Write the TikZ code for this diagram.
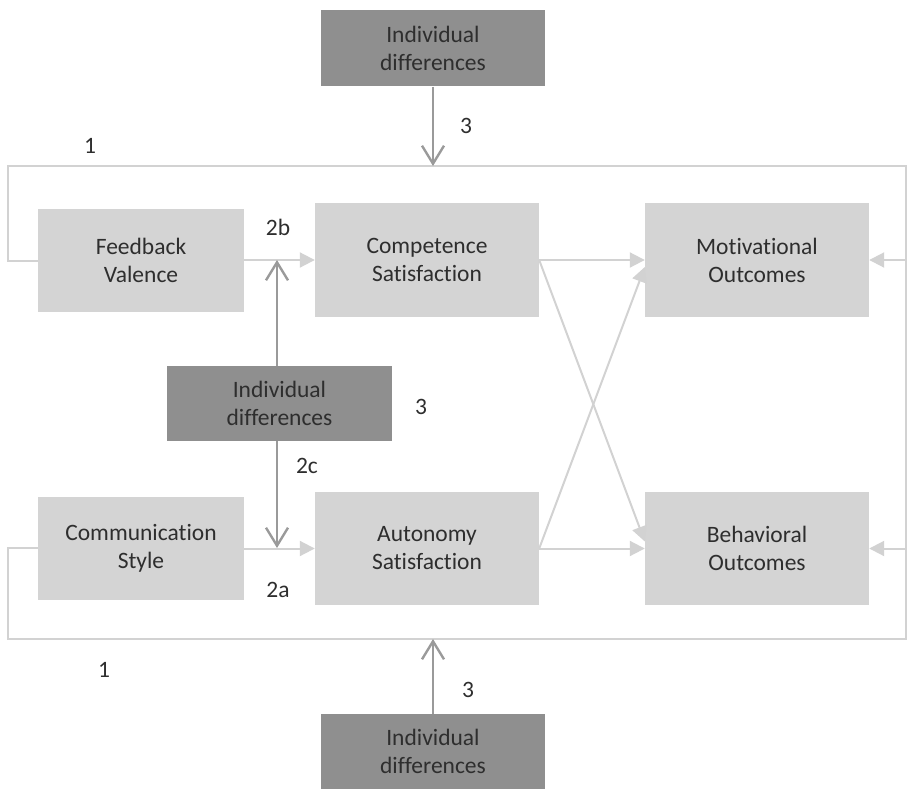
\documentclass[tikz,border=0pt]{standalone}
\usepackage{fontspec}
\setmainfont{Carlito}[Ligatures={NoCommon}]
\usetikzlibrary{arrows.meta}
\definecolor{boxlight}{HTML}{D4D4D4}
\definecolor{boxdark}{HTML}{8F8F8F}
\definecolor{linelight}{HTML}{D2D2D2}
\definecolor{linedark}{HTML}{9A9A9A}
\definecolor{ink}{HTML}{2E2E2E}
\begin{document}
\begin{tikzpicture}[x=1pt,y=-1pt,
  every node/.style={text=ink,font=\fontsize{23.5}{28}\selectfont},
  lbox/.style={fill=boxlight,draw=none,align=center,inner sep=0pt},
  dbox/.style={fill=boxdark,draw=none,align=center,inner sep=0pt,minimum width=224pt,minimum height=76pt},
  flow/.style={draw=linelight,line width=2pt},
  flowarrow/.style={flow,-{Triangle[length=15pt,width=15pt]}},
  modarrow/.style={draw=linedark,line width=2.4pt,-{Straight Barb[length=18pt,width=22pt,line width=2.4pt]}},
  tag/.style={inner sep=0pt}]
\useasboundingbox (0,0) rectangle (907,789);

% boxes
\node[dbox] (idtop) at (433,48.5) {Individual\\differences};
\node[lbox,minimum width=206pt,minimum height=103pt] (fv) at (141,260.5) {Feedback\\Valence};
\node[lbox,minimum width=224pt,minimum height=114pt] (cs) at (427,260) {Competence\\Satisfaction};
\node[lbox,minimum width=224pt,minimum height=114pt] (mo) at (757,260) {Motivational\\Outcomes};
\node[dbox,minimum width=225pt,minimum height=75pt] (idmid) at (279.5,403.5) {Individual\\differences};
\node[lbox,minimum width=206pt,minimum height=103pt] (com) at (141,548) {Communication\\Style};
\node[lbox,minimum width=224pt,minimum height=113pt] (as) at (427,548.5) {Autonomy\\Satisfaction};
\node[lbox,minimum width=224pt,minimum height=113pt] (bo) at (757,548.5) {Behavioral\\Outcomes};
\node[dbox,minimum height=75pt] (idbot) at (433,751.5) {Individual\\differences};

% corners of the outer feedback loop
\coordinate (lt) at (8,166);
\coordinate (rt) at (906,166);
\coordinate (lb) at (8,639);
\coordinate (rb) at (906,639);

% outer loop
\draw[flow] (fv.west) -| (lt) -- (rt) -- (rb) -- (lb) |- (com.west);
\draw[flowarrow] (rt |- mo.east) -- (mo.east);
\draw[flowarrow] (rt |- bo.east) -- (bo.east);

% main paths
\draw[flowarrow] (fv.east |- cs.west) -- (cs.west);
\draw[flowarrow] (com.east |- as.west) -- (as.west);
\draw[flowarrow] (cs.east) -- (mo.west);
\draw[flowarrow] (as.east) -- (bo.west);
\draw[flowarrow] (cs.east) -- ([yshift=7pt]bo.west);
\draw[flowarrow] (as.east) -- ([yshift=-7pt]mo.west);

% moderators
\coordinate (mup) at (277,260);
\coordinate (mdn) at (277,548);
\draw[modarrow] (277,366) -- (mup);
\draw[modarrow] (277,441) -- (mdn);
\draw[modarrow] (idtop.south) -- (idtop.south |- rt);
\draw[modarrow] (idbot.north) -- (idbot.north |- rb);

% path labels
\node[tag] (l1a) at (90,146) {1};
\node[tag] (l3a) at (466,126) {3};
\node[tag] (l2b) at (278,227) {2b};
\node[tag] (l3b) at (421,407) {3};
\node[tag] (l2c) at (307,466) {2c};
\node[tag] (l2a) at (278,590) {2a};
\node[tag] (l1b) at (104,670) {1};
\node[tag] (l3c) at (468,690) {3};
\end{tikzpicture}
\end{document}
